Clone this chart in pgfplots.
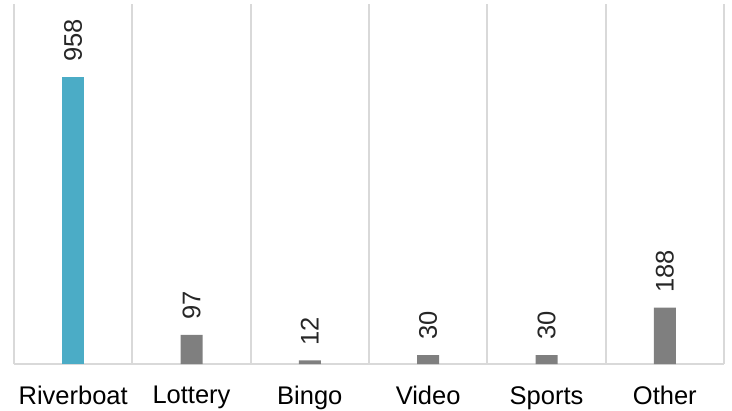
\documentclass[border=0pt]{standalone}
\usepackage{pgfplots}
\pgfplotsset{compat=1.18}
\usepackage{fontspec}
\setmainfont{Liberation Sans}
\definecolor{teal}{HTML}{4BACC6}
\definecolor{bargray}{HTML}{7F7F7F}
\definecolor{gridgray}{HTML}{D9D9D9}
\begin{document}
\begin{tikzpicture}
\begin{axis}[
  at={(0,0)}, anchor=south west,
  scale only axis, width=710bp, height=360bp,
  xmin=-0.5, xmax=5.5, ymin=0, ymax=1200,
  ybar, bar width=22bp, bar shift=0pt,
  hide y axis,
  axis x line*=bottom,
  x axis line style={draw=gridgray, line width=1.8bp},
  xtick={0,1,2,3,4,5},
  xticklabels={Riverboat,Lottery,Bingo,Video,Sports,Other},
  minor xtick={-0.5,0.5,1.5,2.5,3.5,4.5,5.5},
  minor x grid style={draw=gridgray, line width=1.8bp},
  xminorgrids=true,
  major tick length=0pt, minor tick length=0pt,
  tick label style={font=\fontsize{25.5bp}{30bp}\selectfont},
  xticklabel style={inner sep=0pt, yshift=-22bp},
  /pgf/number format/assume math mode=true,
  nodes near coords,
  nodes near coords style={font=\fontsize{25.5bp}{30bp}\selectfont, rotate=90, anchor=west, inner xsep=15bp, inner ysep=0pt, text=black!85},
]
\addplot[fill=teal, draw=none] coordinates {(0,958)};
\addplot[fill=bargray, draw=none] coordinates {(1,97) (2,12) (3,30) (4,30) (5,188)};
\end{axis}
\pgfresetboundingbox
\path (-14bp,-47bp) rectangle (718bp,364bp);
\end{tikzpicture}
\end{document}
